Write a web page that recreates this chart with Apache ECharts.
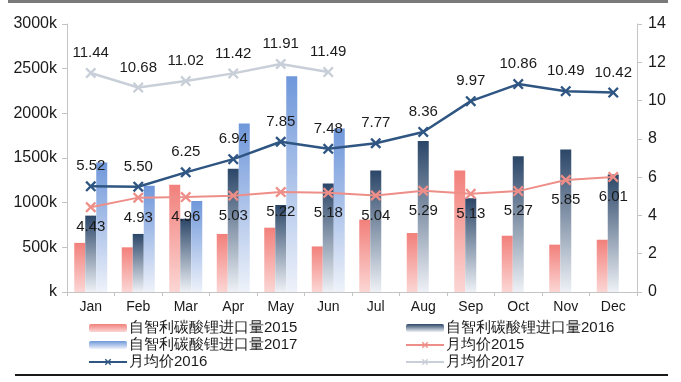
<!DOCTYPE html>
<html>
<head>
<meta charset="utf-8">
<script src="https://cdn.jsdelivr.net/npm/echarts@6/dist/echarts.min.js"></script>
<style>html,body{margin:0;padding:0;background:#fff}#c{width:681px;height:382px}</style>
</head>
<body>
<div id="c"></div>
<script>
var months = ['Jan','Feb','Mar','Apr','May','Jun','Jul','Aug','Sep','Oct','Nov','Dec'];
// import volumes (k)
var imp2015 = [550, 500, 1200, 650, 720, 510, 810, 660, 1360, 630, 530, 585];
var imp2016 = [855, 650, 820, 1380, 975, 1215, 1360, 1690, 1050, 1520, 1595, 1315];
var imp2017 = [1450, 1190, 1020, 1885, 2415, 1830, null, null, null, null, null, null];
// monthly average prices
var price2015 = [4.43, 4.93, 4.96, 5.03, 5.22, 5.18, 5.04, 5.29, 5.13, 5.27, 5.85, 6.01];
var price2016 = [5.52, 5.50, 6.25, 6.94, 7.85, 7.48, 7.77, 8.36, 9.97, 10.86, 10.49, 10.42];
var price2017 = [11.44, 10.68, 11.02, 11.42, 11.91, 11.49, null, null, null, null, null, null];
var leftTicks = {min: 0, max: 3000, interval: 500};
var rightTicks = {min: 0, max: 14, interval: 2};

var names = ['自智利碳酸锂进口量2015','自智利碳酸锂进口量2016','自智利碳酸锂进口量2017','月均价2015','月均价2016','月均价2017'];
var xSym = 'path://M0,1.5L1.5,0L5,3.5L8.5,0L10,1.5L6.5,5L10,8.5L8.5,10L5,6.5L1.5,10L0,8.5L3.5,5Z';
function grad(top, bottom){
  return {type:'linear', x:0, y:0, x2:0, y2:1, colorStops:[{offset:0,color:top},{offset:1,color:bottom}]};
}
var fontF = 'Liberation Sans, Arial, sans-serif';
var chart = echarts.init(document.getElementById('c'), null, {renderer:'canvas'});
function barSeries(name, data, c){
  return {name:name, type:'bar', data:data, barWidth:11, barGap:'0%', yAxisIndex:0, z:1,
    itemStyle:{color:c}};
}
function lineSeries(name, data, color, pos, w){
  return {name:name, type:'line', data:data, yAxisIndex:1, symbol:xSym, symbolSize:11, z:5,
    lineStyle:{color:color, width:w}, itemStyle:{color:color},
    label:{show:true, position:pos, distance:7, color:'#1a1a1a', fontSize:15, fontFamily:fontF,
      formatter:function(p){return p.value==null?'':p.value.toFixed(2);}}};
}
chart.setOption({
  animation:false,
  backgroundColor:'#fff',
  textStyle:{fontFamily:fontF},
  grid:{left:67, right:44, top:24, bottom:90},
  xAxis:{type:'category', data:months, boundaryGap:true,
    axisLine:{lineStyle:{color:'#c4c4c4'}}, axisTick:{show:true, length:4, lineStyle:{color:'#c4c4c4'}},
    axisLabel:{color:'#1a1a1a', fontSize:14, margin:8, fontFamily:fontF}},
  yAxis:[
    {type:'value', min:leftTicks.min, max:leftTicks.max, interval:leftTicks.interval, splitLine:{show:false},
     axisLine:{show:true, lineStyle:{color:'#c4c4c4'}}, axisTick:{show:true, length:5, lineStyle:{color:'#c4c4c4'}},
     axisLabel:{color:'#1a1a1a', fontSize:16, margin:10, fontFamily:fontF, formatter:function(v){return (v===0?'':v)+'k';}}},
    {type:'value', min:rightTicks.min, max:rightTicks.max, interval:rightTicks.interval, splitLine:{show:false}, position:'right',
     axisLine:{show:true, lineStyle:{color:'#c4c4c4'}}, axisTick:{show:true, length:5, lineStyle:{color:'#c4c4c4'}},
     axisLabel:{color:'#1a1a1a', fontSize:16, margin:11, fontFamily:fontF}}
  ],
  legend:[
    {orient:'vertical', left:88, top:320, itemWidth:38, itemHeight:8, itemGap:1, padding:0,
     data:[names[0], names[2], names[4]],
     textStyle:{fontSize:15, color:'#1a1a1a', lineHeight:16, padding:[0,0,0,-3]}},
    {orient:'vertical', left:405, top:320, itemWidth:38, itemHeight:8, itemGap:1, padding:0,
     data:[names[1], names[3], names[5]],
     textStyle:{fontSize:15, color:'#1a1a1a', lineHeight:16, padding:[0,0,0,-3]}}
  ],
  graphic:[
    {type:'rect', shape:{x:8, y:0, width:660, height:3}, style:{fill:'#7a7a7a'}},
    {type:'rect', shape:{x:15, y:374, width:653, height:2}, style:{fill:'#1a1a1a'}}
  ],
  series:[
    barSeries(names[0], imp2015, grad('#f2807b','#fbd6d4')),
    barSeries(names[1], imp2016, grad('#2b4668','#eef1f6')),
    barSeries(names[2], imp2017, grad('#6f97da','#eef2fa')),
    lineSeries(names[3], price2015, '#ee8e88', 'bottom', 2),
    lineSeries(names[4], price2016, '#2f5682', 'top', 2.5),
    lineSeries(names[5], price2017, '#c9cfd8', 'top', 2.5)
  ]
});
</script>
</body>
</html>
